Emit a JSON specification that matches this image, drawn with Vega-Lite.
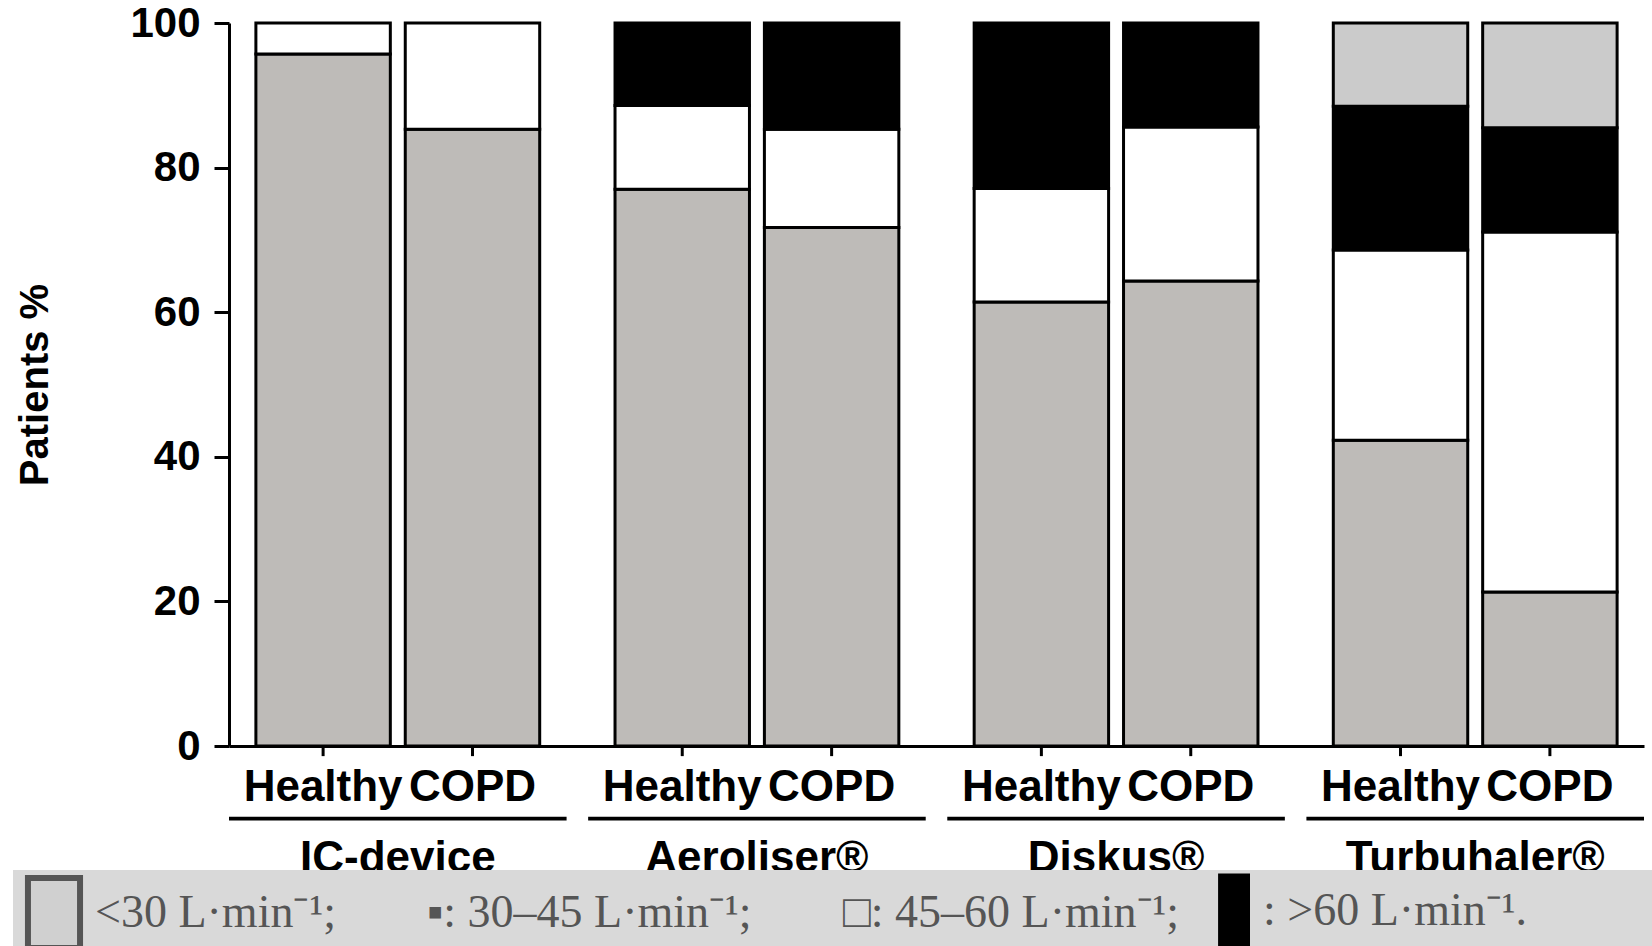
{
  "$schema": "https://vega.github.io/schema/vega-lite/v6.json",
  "width": 1415,
  "height": 723,
  "autosize": {"type": "none"},
  "padding": {"left": 229, "top": 23, "right": 8, "bottom": 200},
  "background": "white",
  "config": {"view": {"stroke": null}, "font": "Liberation Sans"},
  "datasets": {
    "seg": [
      {"device": "IC-device", "group": "Healthy", "flow": ">60", "rank": 1, "pct": 95.7},
      {"device": "IC-device", "group": "Healthy", "flow": "45–60", "rank": 2, "pct": 4.3},
      {"device": "IC-device", "group": "COPD", "flow": ">60", "rank": 1, "pct": 85.3},
      {"device": "IC-device", "group": "COPD", "flow": "45–60", "rank": 2, "pct": 14.7},
      {"device": "Aeroliser®", "group": "Healthy", "flow": ">60", "rank": 1, "pct": 77.0},
      {"device": "Aeroliser®", "group": "Healthy", "flow": "45–60", "rank": 2, "pct": 11.6},
      {"device": "Aeroliser®", "group": "Healthy", "flow": "30–45", "rank": 3, "pct": 11.4},
      {"device": "Aeroliser®", "group": "COPD", "flow": ">60", "rank": 1, "pct": 71.7},
      {"device": "Aeroliser®", "group": "COPD", "flow": "45–60", "rank": 2, "pct": 13.6},
      {"device": "Aeroliser®", "group": "COPD", "flow": "30–45", "rank": 3, "pct": 14.7},
      {"device": "Diskus®", "group": "Healthy", "flow": ">60", "rank": 1, "pct": 61.4},
      {"device": "Diskus®", "group": "Healthy", "flow": "45–60", "rank": 2, "pct": 15.7},
      {"device": "Diskus®", "group": "Healthy", "flow": "30–45", "rank": 3, "pct": 22.9},
      {"device": "Diskus®", "group": "COPD", "flow": ">60", "rank": 1, "pct": 64.3},
      {"device": "Diskus®", "group": "COPD", "flow": "45–60", "rank": 2, "pct": 21.3},
      {"device": "Diskus®", "group": "COPD", "flow": "30–45", "rank": 3, "pct": 14.4},
      {"device": "Turbuhaler®", "group": "Healthy", "flow": ">60", "rank": 1, "pct": 42.3},
      {"device": "Turbuhaler®", "group": "Healthy", "flow": "45–60", "rank": 2, "pct": 26.3},
      {"device": "Turbuhaler®", "group": "Healthy", "flow": "30–45", "rank": 3, "pct": 19.9},
      {"device": "Turbuhaler®", "group": "Healthy", "flow": "<30", "rank": 4, "pct": 11.5},
      {"device": "Turbuhaler®", "group": "COPD", "flow": ">60", "rank": 1, "pct": 21.3},
      {"device": "Turbuhaler®", "group": "COPD", "flow": "45–60", "rank": 2, "pct": 49.8},
      {"device": "Turbuhaler®", "group": "COPD", "flow": "30–45", "rank": 3, "pct": 14.4},
      {"device": "Turbuhaler®", "group": "COPD", "flow": "<30", "rank": 4, "pct": 14.5}
    ],
    "bars": [
      {"device": "IC-device", "group": "Healthy"},
      {"device": "IC-device", "group": "COPD"},
      {"device": "Aeroliser®", "group": "Healthy"},
      {"device": "Aeroliser®", "group": "COPD"},
      {"device": "Diskus®", "group": "Healthy"},
      {"device": "Diskus®", "group": "COPD"},
      {"device": "Turbuhaler®", "group": "Healthy"},
      {"device": "Turbuhaler®", "group": "COPD"}
    ],
    "devices": [
      {"device": "IC-device"},
      {"device": "Aeroliser®"},
      {"device": "Diskus®"},
      {"device": "Turbuhaler®"}
    ],
    "flows": [
      {"flow": "<30"},
      {"flow": "30–45"},
      {"flow": "45–60"},
      {"flow": ">60"}
    ]
  },
  "layer": [
    {
      "data": {"name": "seg"},
      "mark": {"type": "bar", "stroke": "black", "strokeWidth": 3},
      "encoding": {
        "x": {
          "field": "device", "type": "nominal",
          "sort": ["IC-device", "Aeroliser®", "Diskus®", "Turbuhaler®"],
          "scale": {"domain": ["IC-device", "Aeroliser®", "Diskus®", "Turbuhaler®"], "paddingInner": 0.06, "paddingOuter": 0},
          "axis": {
            "title": null, "labelAngle": 0, "ticks": false, "tickSize": 0,
            "domainWidth": 3, "domainColor": "black", "labelLimit": 0,
            "labelFont": "Liberation Sans", "labelFontWeight": "bold", "labelFontSize": 44,
            "labelColor": "black", "labelPadding": 125, "labelBaseline": "alphabetic"
          }
        },
        "xOffset": {
          "field": "group", "type": "nominal",
          "sort": ["Healthy", "COPD"],
          "scale": {"domain": ["Healthy", "COPD"], "paddingInner": 0.1, "paddingOuter": 0.18}
        },
        "y": {
          "field": "pct", "type": "quantitative", "stack": "zero",
          "scale": {"domain": [0, 100], "nice": false, "zero": true},
          "axis": {
            "values": [0, 20, 40, 60, 80, 100], "grid": false,
            "tickSize": 15, "tickWidth": 3, "tickColor": "black",
            "domainWidth": 3, "domainColor": "black",
            "labelFont": "Liberation Sans", "labelFontWeight": "bold", "labelFontSize": 42,
            "labelColor": "black", "labelPadding": 14,
            "title": "Patients %", "titleFont": "Liberation Sans", "titleFontWeight": "bold",
            "titleFontSize": 40, "titleColor": "black", "titlePadding": 74
          }
        },
        "order": {"field": "rank", "type": "quantitative"},
        "color": {
          "field": "flow", "type": "nominal",
          "scale": {"domain": [">60", "45–60", "30–45", "<30"], "range": ["#bebbb8", "#ffffff", "#000000", "#cbcbcb"]},
          "legend": null
        }
      }
    },
    {
      "data": {"name": "bars"},
      "mark": {"type": "rule", "color": "black", "strokeWidth": 3},
      "encoding": {
        "x": {"field": "device", "type": "nominal"},
        "xOffset": {"field": "group", "type": "nominal"},
        "y": {"datum": 0},
        "y2": {"datum": -1.4}
      }
    },
    {
      "data": {"name": "bars"},
      "mark": {"type": "text", "font": "Liberation Sans", "fontWeight": "bold", "fontSize": 44, "color": "black", "baseline": "alphabetic", "align": "center"},
      "encoding": {
        "x": {"field": "device", "type": "nominal"},
        "xOffset": {"field": "group", "type": "nominal"},
        "y": {"datum": -7.6},
        "text": {"field": "group"}
      }
    },
    {
      "data": {"name": "devices"},
      "mark": {"type": "bar", "color": "black"},
      "encoding": {
        "x": {"field": "device", "type": "nominal"},
        "y": {"datum": -9.8},
        "y2": {"datum": -10.3}
      }
    },
    {
      "data": {"name": "flows"},
      "mark": {"type": "point", "filled": true, "size": 0},
      "encoding": {
        "x": {"datum": "IC-device"},
        "y": {"datum": 50},
        "fill": {
          "field": "flow", "type": "nominal",
          "scale": {"domain": ["<30", "30–45", "45–60", ">60"], "range": ["#d0d0d0", "transparent", "transparent", "#000000"]},
          "legend": {
            "orient": "none", "legendX": -216, "legendY": 847, "direction": "horizontal",
            "title": null, "fillColor": "#d9d9d9", "padding": 10,
            "symbolSize": 3136, "symbolStrokeWidth": 6, "symbolOpacity": 1,
            "labelFont": "Liberation Serif", "labelFontSize": 46, "labelColor": "#555555",
            "labelOffset": 10, "columnPadding": 11, "labelLimit": 0,
            "labelExpr": "datum.value === '<30' ? '<30 L·min⁻¹;' : datum.value === '30–45' ? '▪: 30–45 L·min⁻¹;' : datum.value === '45–60' ? '□: 45–60 L·min⁻¹;' : ': >60 L·min⁻¹.\u2800\u2800\u2800\u2800'"
          }
        },
        "stroke": {
          "field": "flow", "type": "nominal",
          "scale": {"domain": ["<30", "30–45", "45–60", ">60"], "range": ["#555555", "transparent", "transparent", "transparent"]},
          "legend": {
            "orient": "none", "legendX": -216, "legendY": 847, "direction": "horizontal",
            "title": null, "fillColor": "#d9d9d9", "padding": 10,
            "symbolSize": 3136, "symbolStrokeWidth": 6, "symbolOpacity": 1,
            "labelFont": "Liberation Serif", "labelFontSize": 46, "labelColor": "#555555",
            "labelOffset": 10, "columnPadding": 11, "labelLimit": 0,
            "labelExpr": "datum.value === '<30' ? '<30 L·min⁻¹;' : datum.value === '30–45' ? '▪: 30–45 L·min⁻¹;' : datum.value === '45–60' ? '□: 45–60 L·min⁻¹;' : ': >60 L·min⁻¹.\u2800\u2800\u2800\u2800'"
          }
        },
        "shape": {
          "field": "flow", "type": "nominal",
          "scale": {"domain": ["<30", "30–45", "45–60", ">60"], "range": ["M-0.93,-1.25H0.93V1.25H-0.93Z", "M-0.93,-1.25H0.93V1.25H-0.93Z", "M-0.93,-1.25H0.93V1.25H-0.93Z", "M-0.14,-1.36H1V1.36H-0.14Z"]},
          "legend": {
            "orient": "none", "legendX": -216, "legendY": 847, "direction": "horizontal",
            "title": null, "fillColor": "#d9d9d9", "padding": 10,
            "symbolSize": 3136, "symbolStrokeWidth": 6, "symbolOpacity": 1,
            "labelFont": "Liberation Serif", "labelFontSize": 46, "labelColor": "#555555",
            "labelOffset": 10, "columnPadding": 11, "labelLimit": 0,
            "labelExpr": "datum.value === '<30' ? '<30 L·min⁻¹;' : datum.value === '30–45' ? '▪: 30–45 L·min⁻¹;' : datum.value === '45–60' ? '□: 45–60 L·min⁻¹;' : ': >60 L·min⁻¹.\u2800\u2800\u2800\u2800'"
          }
        }
      }
    }
  ]
}
